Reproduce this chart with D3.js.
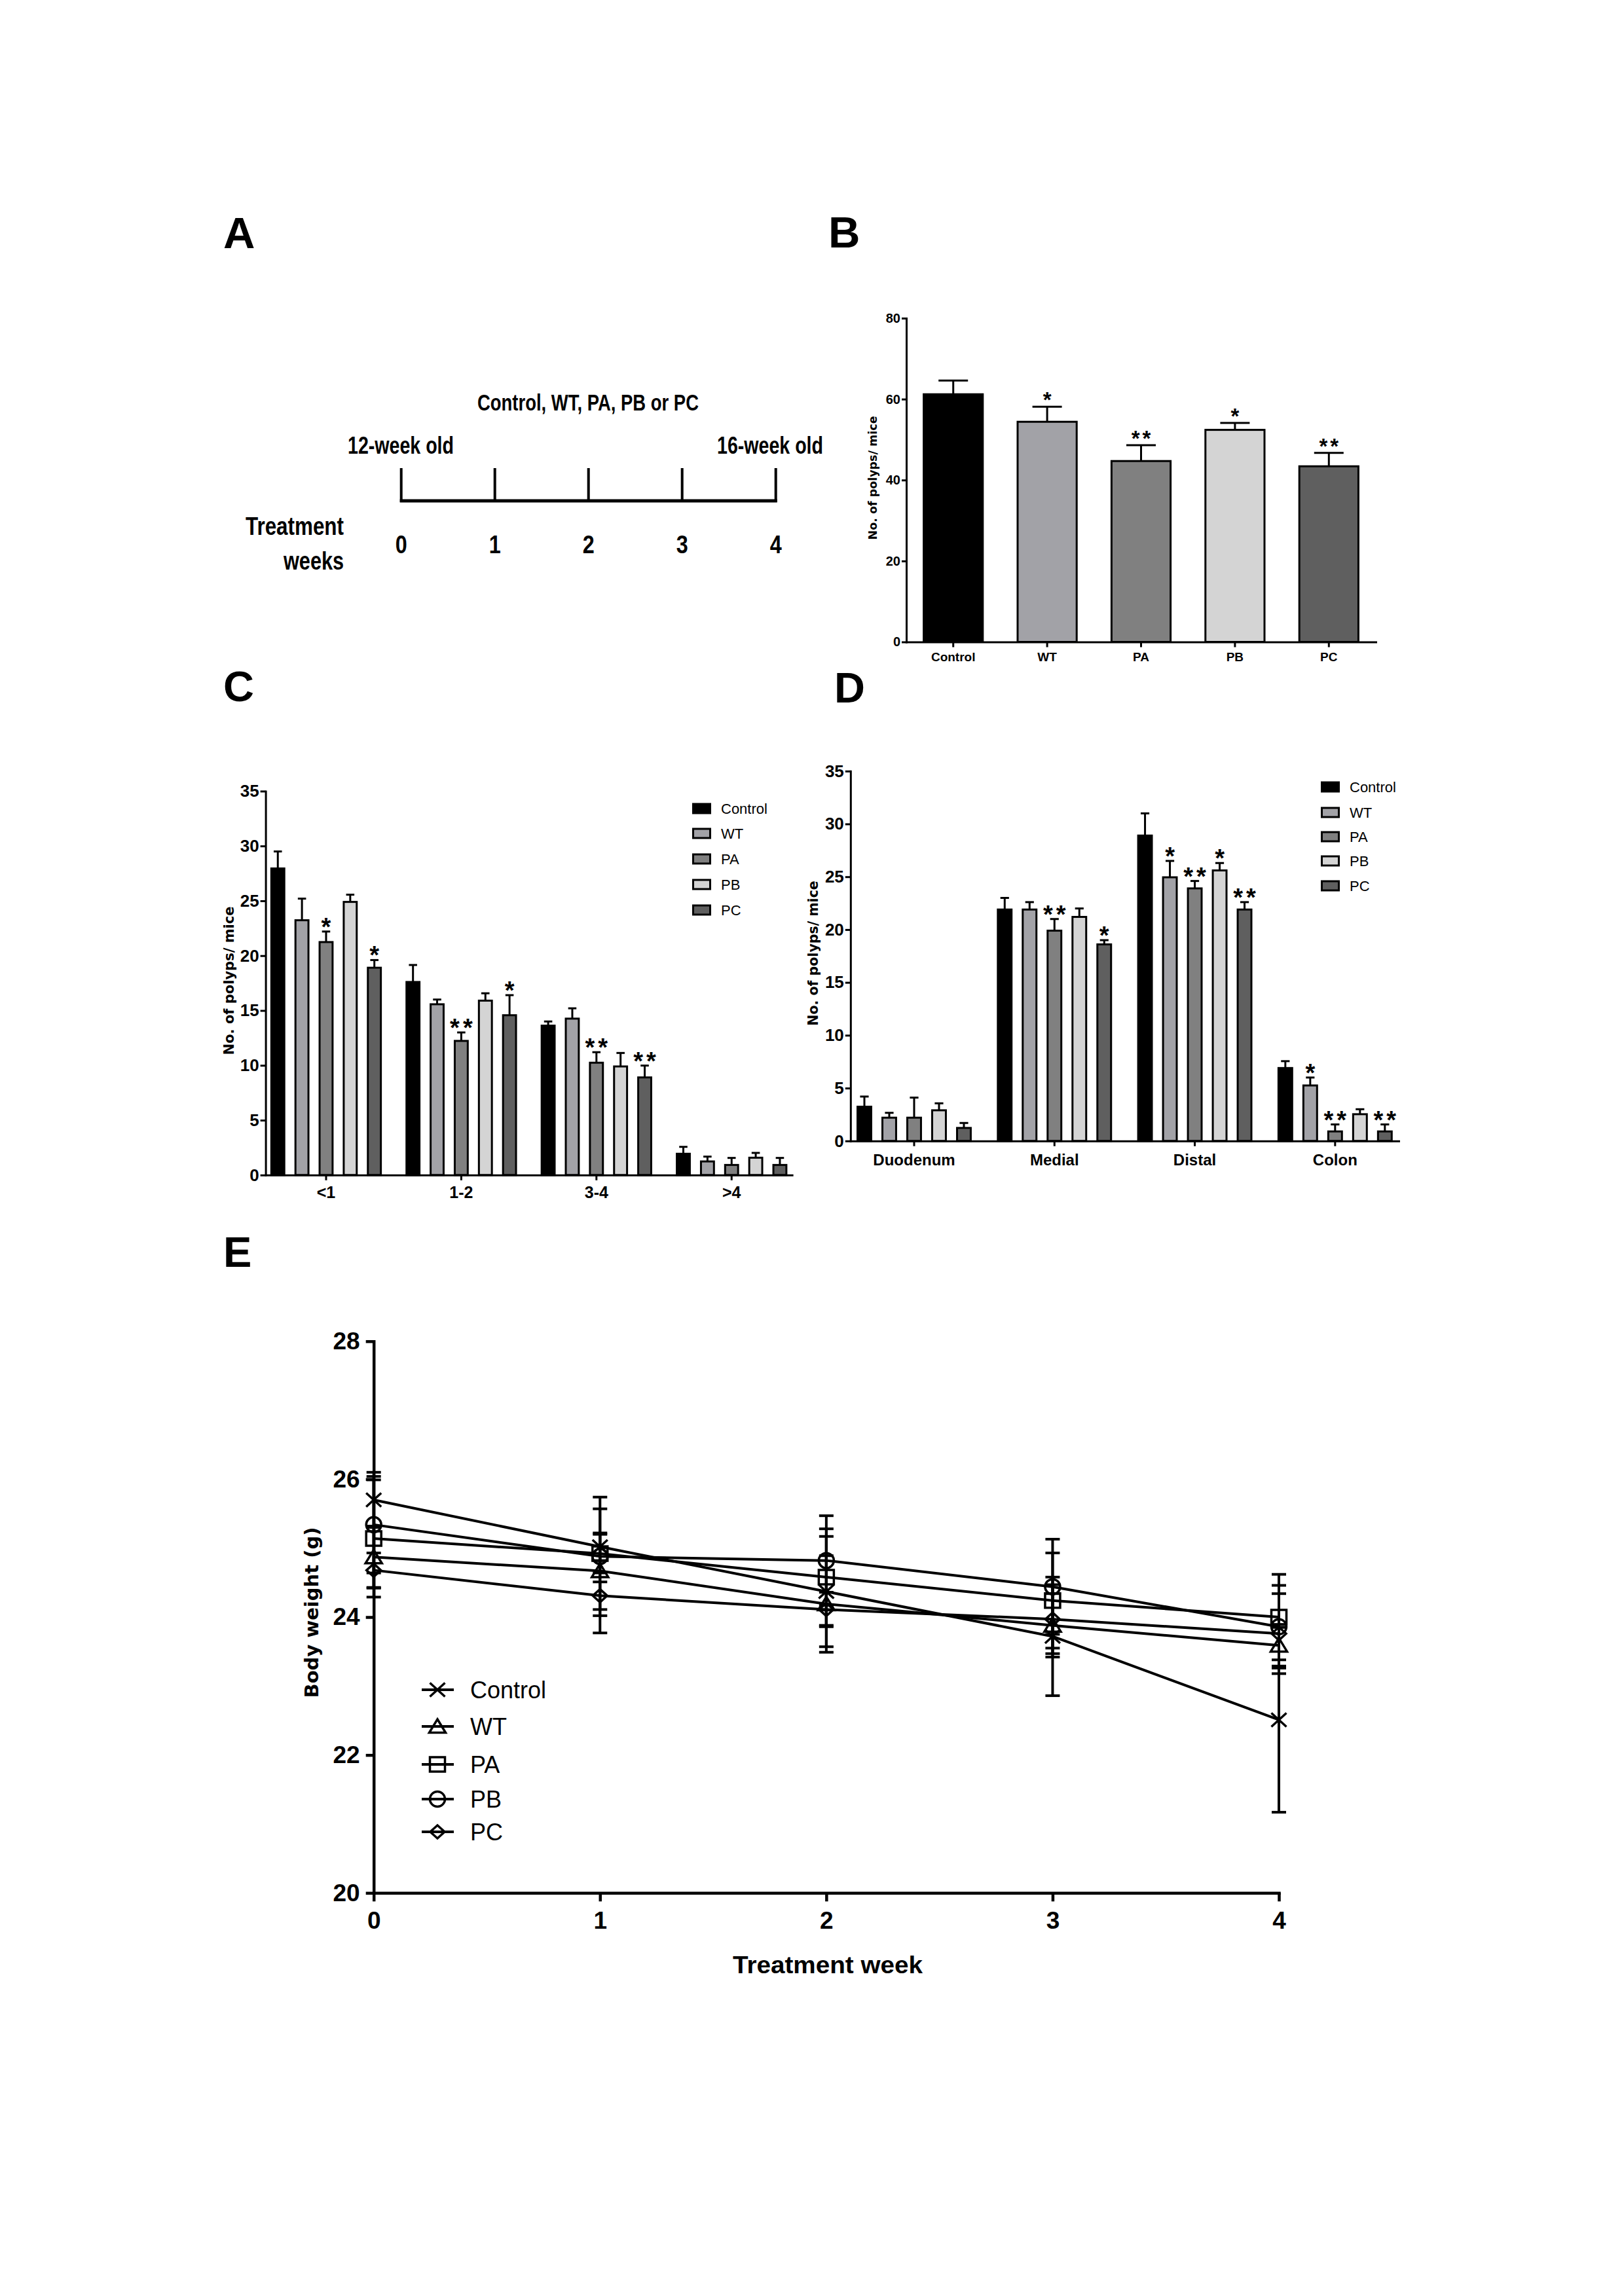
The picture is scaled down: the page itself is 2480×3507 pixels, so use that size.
<!DOCTYPE html>
<html><head><meta charset="utf-8">
<script src="https://cdn.jsdelivr.net/npm/d3@7"></script>
<style>body{margin:0;background:#fff} svg{display:block}</style>
</head><body>
<script>
// ---------------- DATA ----------------
const groups = ["Control", "WT", "PA", "PB", "PC"];
const groupColors = ["#000000", "#a2a2a7", "#808080", "#d4d4d4", "#5f5f5f"];

// Panel A (timeline)
const timelineWeeks = [0, 1, 2, 3, 4];

// Panel B
const bMeans = [61.2, 54.4, 44.7, 52.4, 43.4];
const bErrors = [3.4, 3.7, 3.9, 1.7, 3.3];
const bStars = ["", "*", "**", "*", "**"];
const bTicks = [0, 20, 40, 60, 80];

// Panel C (rows = groups, cols = categories)
const cCategories = ["<1", "1-2", "3-4", ">4"];
const cMeans = [
  [27.95, 17.6, 13.62, 1.94],
  [23.23, 15.57, 14.26, 1.24],
  [21.24, 12.23, 10.24, 0.92],
  [24.9, 15.9, 9.9, 1.58],
  [18.9, 14.57, 8.9, 0.92]
];
const cErrors = [
  [1.55, 1.55, 0.38, 0.63],
  [1.97, 0.43, 0.94, 0.44],
  [0.96, 0.77, 0.96, 0.64],
  [0.66, 0.67, 1.23, 0.44],
  [0.7, 1.83, 1.08, 0.64]
];
const cStars = [
  ["", "", "", ""],
  ["", "", "", ""],
  ["*", "**", "**", ""],
  ["", "", "", ""],
  ["*", "*", "**", ""]
];
const cTicks = [0, 5, 10, 15, 20, 25, 30, 35];

// Panel D
const dCategories = ["Duodenum", "Medial", "Distal", "Colon"];
const dMeans = [
  [3.24, 21.9, 28.9, 6.9],
  [2.2, 21.9, 24.95, 5.25],
  [2.2, 19.9, 23.9, 0.9],
  [2.9, 21.2, 25.6, 2.53],
  [1.23, 18.6, 21.9, 0.9]
];
const dErrors = [
  [0.96, 1.1, 2.1, 0.65],
  [0.46, 0.7, 1.55, 0.75],
  [1.9, 1.1, 0.7, 0.66],
  [0.66, 0.8, 0.7, 0.47],
  [0.47, 0.4, 0.7, 0.66]
];
const dStars = [
  ["", "", "", ""],
  ["", "", "*", "*"],
  ["", "**", "**", "**"],
  ["", "", "*", ""],
  ["", "*", "**", "**"]
];
const dTicks = [0, 5, 10, 15, 20, 25, 30, 35];

// Panel E
const eWeeks = [0, 1, 2, 3, 4];
const eMeans = [
  [25.70, 25.02, 24.37, 23.72, 22.51],
  [24.87, 24.67, 24.19, 23.88, 23.59],
  [25.14, 24.92, 24.58, 24.24, 24.00],
  [25.34, 24.88, 24.82, 24.44, 23.86],
  [24.68, 24.31, 24.11, 23.97, 23.76]
];
const eErrors = [
  [0.40, 0.20, 0.80, 0.86, 1.34],
  [0.45, 0.90, 0.70, 0.46, 0.30],
  [0.85, 0.28, 0.70, 0.69, 0.62],
  [0.70, 0.86, 0.65, 0.69, 0.60],
  [0.25, 0.20, 0.25, 0.50, 0.58]
];
const eMarkers = ["x", "triangle", "square", "circle", "diamond"];
const eTicks = [20, 22, 24, 26, 28];

// ---------------- DRAWING ----------------
const W = 2480, H = 3507;
const SANS = "'Liberation Sans', Arial, Helvetica, sans-serif";
const VERD = "'DejaVu Sans', Verdana, sans-serif";

const svg = d3.select("body").append("svg")
  .attr("width", W).attr("height", H).attr("viewBox", `0 0 ${W} ${H}`);
svg.append("rect").attr("width", W).attr("height", H).attr("fill", "#fff");

function txt(parent, t, x, y, size, opts = {}) {
  const s = parent.append("text").attr("x", x).attr("y", y)
    .attr("font-family", opts.family || SANS)
    .attr("font-weight", opts.weight || "bold")
    .attr("font-size", size)
    .attr("text-anchor", opts.anchor || "start")
    .attr("fill", "#000")
    .text(t);
  if (opts.len) s.attr("textLength", opts.len).attr("lengthAdjust", "spacingAndGlyphs");
  if (opts.baseline) s.attr("dominant-baseline", opts.baseline);
  return s;
}

// Panel letters
txt(svg, "A", 341, 378.5, 67);
txt(svg, "B", 1265, 378, 67);
txt(svg, "C", 341, 1071, 65);
txt(svg, "D", 1274, 1073, 65);
txt(svg, "E", 341, 1935, 65);

// ---------- Panel A ----------
(function () {
  const g = svg.append("g");
  const tl = d3.scaleLinear().domain([0, 4]).range([612.7, 1184.7]);
  g.append("line").attr("x1", tl(0) - 2).attr("x2", tl(4) + 2).attr("y1", 765).attr("y2", 765)
    .attr("stroke", "#000").attr("stroke-width", 5);
  g.selectAll("line.tk").data(timelineWeeks).join("line").attr("class", "tk")
    .attr("x1", d => tl(d)).attr("x2", d => tl(d)).attr("y1", 715).attr("y2", 767)
    .attr("stroke", "#000").attr("stroke-width", 4);
  g.selectAll("text.num").data(timelineWeeks).join("text").attr("class", "num")
    .attr("x", d => tl(d)).attr("y", 845).attr("text-anchor", "middle")
    .attr("font-family", SANS).attr("font-weight", "bold").attr("font-size", 39)
    .attr("textLength", 18).attr("lengthAdjust", "spacingAndGlyphs")
    .text(d => d);
  txt(g, "Control, WT, PA, PB or PC", 898, 627, 35, { anchor: "middle", len: 338 });
  txt(g, "12-week old", 612, 693, 36, { anchor: "middle", len: 162 });
  txt(g, "16-week old", 1176, 693, 36, { anchor: "middle", len: 162 });
  txt(g, "Treatment", 525, 817, 38, { anchor: "end", len: 150 });
  txt(g, "weeks", 525, 870, 38, { anchor: "end", len: 92 });
})();

function styleAxis(ax, sw, fs) {
  ax.attr("font-size", null).attr("font-family", null);
  ax.select(".domain").attr("stroke", "#000").attr("stroke-width", sw).attr("stroke-linecap", "square");
  ax.selectAll(".tick line").attr("stroke", "#000").attr("stroke-width", sw);
  ax.selectAll(".tick text").attr("font-family", SANS).attr("font-weight", "bold")
    .attr("font-size", fs).attr("fill", "#000");
}

function stars(g, x, y, s, fs, ls) {
  if (!s) return;
  g.append("text").attr("x", x + (s.length > 1 ? ls / 2 : 0)).attr("y", y)
    .attr("text-anchor", "middle").attr("font-family", SANS).attr("font-weight", "bold")
    .attr("font-size", fs).attr("letter-spacing", s.length > 1 ? ls : 0)
    .attr("fill", "#000").text(s);
}

// ---------- Panel B ----------
(function () {
  const g = svg.append("g");
  const x = d3.scaleBand().domain(groups).range([1384, 2101]).paddingInner(0.35).paddingOuter(0.175);
  const y = d3.scaleLinear().domain([0, 80]).range([980.5, 486]);
  const data = groups.map((k, i) => ({ k, v: bMeans[i], e: bErrors[i], s: bStars[i], c: groupColors[i] }));
  const cx = d => x(d.k) + x.bandwidth() / 2;
  const capW = 45;
  g.selectAll("line.ev").data(data).join("line").attr("class", "ev")
    .attr("x1", cx).attr("x2", cx).attr("y1", d => y(d.v)).attr("y2", d => y(d.v + d.e))
    .attr("stroke", "#000").attr("stroke-width", 3);
  g.selectAll("line.ec").data(data).join("line").attr("class", "ec")
    .attr("x1", d => cx(d) - capW / 2).attr("x2", d => cx(d) + capW / 2)
    .attr("y1", d => y(d.v + d.e)).attr("y2", d => y(d.v + d.e))
    .attr("stroke", "#000").attr("stroke-width", 3);
  g.selectAll("rect.bar").data(data).join("rect").attr("class", "bar")
    .attr("x", d => x(d.k) + 1.5).attr("width", x.bandwidth() - 3)
    .attr("y", d => y(d.v)).attr("height", d => y(0) - y(d.v))
    .attr("fill", d => d.c).attr("stroke", "#000").attr("stroke-width", 3);
  data.forEach(d => stars(g, cx(d), y(d.v + d.e) + 1, d.s, 33, 4));

  const ay = g.append("g").attr("transform", "translate(1384,0)")
    .call(d3.axisLeft(y).tickValues(bTicks).tickSize(7).tickSizeOuter(0).tickPadding(2));
  styleAxis(ay, 3, 20);
  const ax = g.append("g").attr("transform", "translate(0,980.5)")
    .call(d3.axisBottom(x).tickSize(8).tickSizeOuter(0).tickPadding(8));
  styleAxis(ax, 3, 19);
  txt(g, "No. of polyps/ mice", 0, 0, 17.5, { family: VERD, anchor: "middle", baseline: "central" })
    .attr("transform", "translate(1333,730) rotate(-90)");
})();

// ---------- Panels C & D ----------
function grouped(o) {
  const g = svg.append("g");
  const x0 = d3.scaleBand().domain(o.cats).range(o.xr).paddingInner(o.pi0).paddingOuter(o.po0);
  const x1 = d3.scaleBand().domain(groups).range([0, x0.bandwidth()]).paddingInner(o.pi1);
  const y = d3.scaleLinear().domain([0, 35]).range(o.yr);
  const bw = x1.bandwidth();
  const capW = bw * 0.55;
  groups.forEach((k, si) => {
    const data = o.cats.map((c, ci) => ({ c, v: o.means[si][ci], e: o.errs[si][ci], s: o.stars[si][ci] }));
    const cx = d => x0(d.c) + x1(k) + bw / 2;
    const gs = g.append("g");
    gs.selectAll("line.ev").data(data).join("line").attr("class", "ev")
      .attr("x1", cx).attr("x2", cx).attr("y1", d => y(d.v)).attr("y2", d => y(d.v + d.e))
      .attr("stroke", "#000").attr("stroke-width", 3);
    gs.selectAll("line.ec").data(data).join("line").attr("class", "ec")
      .attr("x1", d => cx(d) - capW / 2).attr("x2", d => cx(d) + capW / 2)
      .attr("y1", d => y(d.v + d.e)).attr("y2", d => y(d.v + d.e))
      .attr("stroke", "#000").attr("stroke-width", 3);
    gs.selectAll("rect.bar").data(data).join("rect").attr("class", "bar")
      .attr("x", d => x0(d.c) + x1(k) + 1.5).attr("width", bw - 3)
      .attr("y", d => y(d.v)).attr("height", d => y(0) - y(d.v))
      .attr("fill", groupColors[si]).attr("stroke", "#000").attr("stroke-width", 3);
    data.forEach(d => stars(gs, cx(d), y(d.v + d.e) + 6, d.s, 38, 5));
  });
  const ay = g.append("g").attr("transform", `translate(${o.xr[0]},0)`)
    .call(d3.axisLeft(y).tickValues(o.ticks).tickSize(8).tickSizeOuter(0).tickPadding(o.yPad));
  styleAxis(ay, 3, 26);
  const ax = g.append("g").attr("transform", `translate(0,${o.yr[0]})`)
    .call(d3.axisBottom(x0).tickSize(8).tickSizeOuter(0).tickPadding(o.xPad));
  styleAxis(ax, 3, o.xfs);
  // legend
  const lg = g.append("g");
  lg.selectAll("rect").data(groups).join("rect")
    .attr("x", o.legBox + 1.5).attr("y", (d, i) => o.legY[i] - 7).attr("width", 26).attr("height", 14)
    .attr("fill", (d, i) => groupColors[i]).attr("stroke", "#000").attr("stroke-width", 3);
  lg.selectAll("text").data(groups).join("text")
    .attr("x", o.legText).attr("y", (d, i) => o.legY[i] + 8)
    .attr("font-family", SANS).attr("font-size", 22).attr("fill", "#000").text(d => d);
  txt(g, "No. of polyps/ mice", 0, 0, o.ylfs, { family: VERD, anchor: "middle", baseline: "central" })
    .attr("transform", `translate(${o.yl[0]},${o.yl[1]}) rotate(-90)`);
}

grouped({
  cats: cCategories, means: cMeans, errs: cErrors, stars: cStars, ticks: cTicks,
  xr: [405.6, 1209.6], pi0: 0.175, po0: 0.035, pi1: 0.38, yr: [1794.8, 1208.4],
  yPad: 2, xPad: 9, xfs: 25,
  legBox: 1057, legText: 1101, legY: [1235, 1273, 1312, 1351, 1390],
  yl: [350, 1498], ylfs: 21
});

grouped({
  cats: dCategories, means: dMeans, errs: dErrors, stars: dStars, ticks: dTicks,
  xr: [1298.8, 2136], pi0: 0.179, po0: 0.043, pi1: 0.37, yr: [1742.7, 1177.8],
  yPad: 2, xPad: 12, xfs: 24,
  legBox: 2017, legText: 2061, legY: [1202, 1241, 1278, 1315, 1353],
  yl: [1242, 1456], ylfs: 20.5
});

// ---------- Panel E ----------
(function () {
  const g = svg.append("g");
  const x = d3.scaleLinear().domain([0, 4]).range([570.7, 1953]);
  const y = d3.scaleLinear().domain([20, 28]).range([2891.3, 2048.7]);
  const capW = 22;

  function markerPath(t) {
    switch (t) {
      case "x": return "M-11.5,-10.5L11.5,10.5M-11.5,10.5L11.5,-10.5";
      case "triangle": return "M0,-11L12.5,9.5L-12.5,9.5Z";
      case "square": return "M-11.5,-11L11.5,-11L11.5,11L-11.5,11Z";
      case "circle": return "M11.5,0A11.5,11.5 0 1,1 -11.5,0A11.5,11.5 0 1,1 11.5,0Z";
      case "diamond": return "M0,-10L11,0L0,10L-11,0Z";
    }
  }

  // error bars
  groups.forEach((k, si) => {
    const data = eWeeks.map((w, wi) => ({ w, m: eMeans[si][wi], e: eErrors[si][wi] }));
    const ge = g.append("g");
    ge.selectAll("line.ev").data(data).join("line").attr("class", "ev")
      .attr("x1", d => x(d.w)).attr("x2", d => x(d.w))
      .attr("y1", d => y(d.m - d.e)).attr("y2", d => y(d.m + d.e))
      .attr("stroke", "#000").attr("stroke-width", 4);
    ge.selectAll("line.ct").data(data).join("line").attr("class", "ct")
      .attr("x1", d => x(d.w) - capW / 2).attr("x2", d => x(d.w) + capW / 2)
      .attr("y1", d => y(d.m + d.e)).attr("y2", d => y(d.m + d.e))
      .attr("stroke", "#000").attr("stroke-width", 4);
    ge.selectAll("line.cb").data(data).join("line").attr("class", "cb")
      .attr("x1", d => x(d.w) - capW / 2).attr("x2", d => x(d.w) + capW / 2)
      .attr("y1", d => y(d.m - d.e)).attr("y2", d => y(d.m - d.e))
      .attr("stroke", "#000").attr("stroke-width", 4);
  });
  // lines + markers
  const line = d3.line().x(d => x(d.w)).y(d => y(d.m));
  groups.forEach((k, si) => {
    const data = eWeeks.map((w, wi) => ({ w, m: eMeans[si][wi] }));
    g.append("path").datum(data).attr("d", line).attr("fill", "none")
      .attr("stroke", "#000").attr("stroke-width", 4);
    g.append("g").selectAll("path").data(data).join("path")
      .attr("transform", d => `translate(${x(d.w)},${y(d.m)})`)
      .attr("d", markerPath(eMarkers[si])).attr("fill", "none")
      .attr("stroke", "#000").attr("stroke-width", 3.5);
  });

  const ay = g.append("g").attr("transform", "translate(570.7,0)")
    .call(d3.axisLeft(y).tickValues(eTicks).tickSize(12).tickSizeOuter(0).tickPadding(9));
  styleAxis(ay, 4.5, 37);
  const ax = g.append("g").attr("transform", "translate(0,2891.3)")
    .call(d3.axisBottom(x).tickValues(eWeeks).tickFormat(d3.format("d")).tickSize(13).tickSizeOuter(0).tickPadding(15));
  styleAxis(ax, 4.5, 37);

  txt(g, "Body weight (g)", 0, 0, 29, { family: VERD, anchor: "middle", baseline: "central" })
    .attr("transform", "translate(476,2463) rotate(-90)");
  txt(g, "Treatment week", 1264, 3014, 37, { anchor: "middle", len: 290 });

  // legend
  const legY = [2581, 2637, 2695, 2748, 2798];
  const lg = g.append("g");
  lg.selectAll("line").data(groups).join("line")
    .attr("x1", 644).attr("x2", 693).attr("y1", (d, i) => legY[i]).attr("y2", (d, i) => legY[i])
    .attr("stroke", "#000").attr("stroke-width", 4);
  lg.selectAll("path").data(groups).join("path")
    .attr("transform", (d, i) => `translate(668,${legY[i]})`)
    .attr("d", (d, i) => markerPath(eMarkers[i])).attr("fill", "none")
    .attr("stroke", "#000").attr("stroke-width", 3.5);
  lg.selectAll("text").data(groups).join("text")
    .attr("x", 718).attr("y", (d, i) => legY[i] + 13)
    .attr("font-family", SANS).attr("font-size", 36).attr("fill", "#000").text(d => d);
})();
</script>
</body></html>
